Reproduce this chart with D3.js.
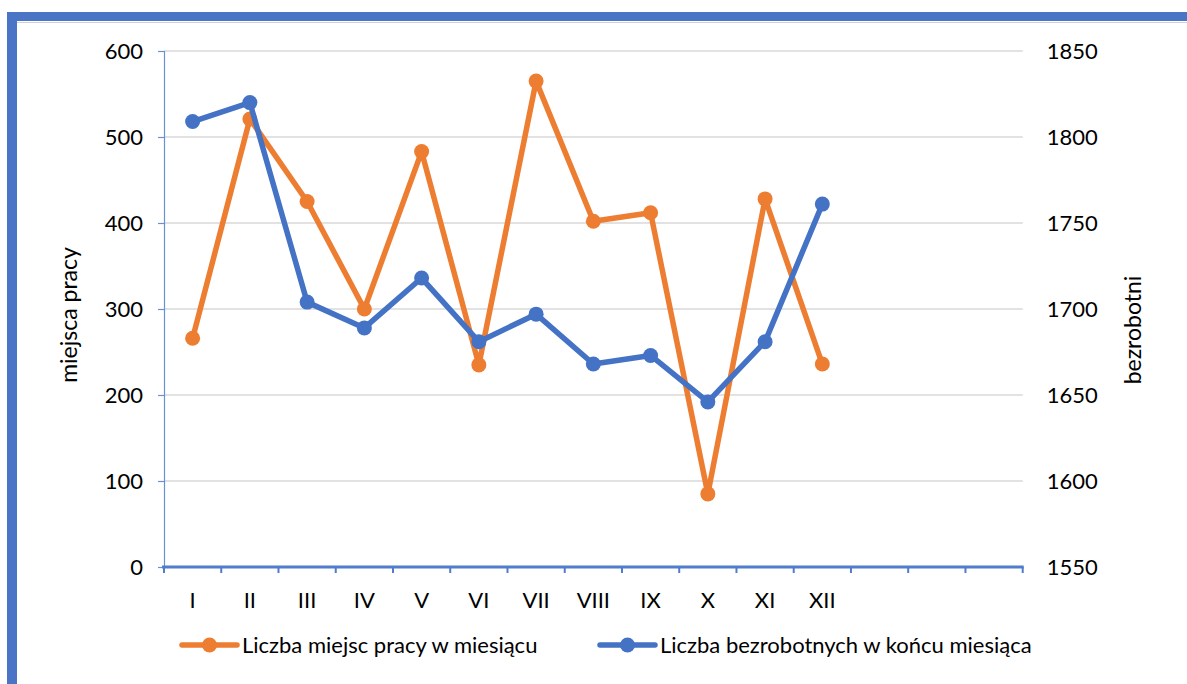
<!DOCTYPE html>
<html><head><meta charset="utf-8">
<script src="https://cdn.jsdelivr.net/npm/d3@7/dist/d3.min.js"></script>
<style>
html,body{margin:0;padding:0;background:#fff;}
svg{display:block;font-family:Lato,"Open Sans",sans-serif;}
</style></head>
<body>
<svg id="c" width="1187" height="684"></svg>
<script>
const categories = ["I","II","III","IV","V","VI","VII","VIII","IX","X","XI","XII","","",""];
const jobs = [266, 521, 425, 300, 483, 235, 565, 402, 412, 85, 428, 236];
const unemployed = [1809, 1820, 1704, 1689, 1718, 1681, 1697, 1668, 1673, 1646, 1681, 1761];
const leftTicks = [0, 100, 200, 300, 400, 500, 600];
const rightTicks = [1550, 1600, 1650, 1700, 1750, 1800, 1850];
const seriesNames = ["Liczba miejsc pracy w miesiącu", "Liczba bezrobotnych w końcu miesiąca"];
const colors = ["#ED7D31", "#4472C4"];

const svg = d3.select("#c");
const L = 164, R = 1022.7, T = 51, B = 567;
const FS = 22;

// frame
svg.append("line").attr("x1",17).attr("x2",1187).attr("y1",22.5).attr("y2",22.5).attr("stroke","#d0d0d0").attr("stroke-width",1);
svg.append("rect").attr("x",7).attr("y",12).attr("width",1180).attr("height",9).attr("fill","#4a74c6");
svg.append("rect").attr("x",7).attr("y",12).attr("width",10).attr("height",672).attr("fill","#4a74c6");

const x = d3.scaleBand().domain(categories.map((d,i)=>i)).range([L,R]).paddingInner(0).paddingOuter(0);
const yL = d3.scaleLinear().domain([0,600]).range([B,T]);
const yR = d3.scaleLinear().domain([1550,1850]).range([B,T]);

// gridlines
svg.append("g").selectAll("line").data(leftTicks.filter(d=>d>0)).join("line")
  .attr("x1",L).attr("x2",R).attr("y1",d=>yL(d)).attr("y2",d=>yL(d))
  .attr("stroke","#d9d9d9").attr("stroke-width",1.5);

// left axis
const gl = svg.append("g").attr("transform",`translate(${L},0)`)
  .call(d3.axisLeft(yL).tickValues(leftTicks).tickSize(6).tickPadding(15).tickFormat(d3.format("d")));
gl.select(".domain").attr("stroke","#6a8fd6").attr("stroke-width",1.2);
gl.selectAll(".tick line").attr("stroke","#6a8fd6").attr("stroke-width",1.2);
gl.selectAll("text").attr("font-size",FS).attr("fill","#000").attr("font-family","Lato");

// right axis
const gr = svg.append("g").attr("transform",`translate(${R},0)`)
  .call(d3.axisRight(yR).tickValues(rightTicks).tickSize(0).tickPadding(24).tickFormat(d3.format("d")));
gr.select(".domain").remove();
gr.selectAll("text").attr("font-size",FS).attr("fill","#000").attr("font-family","Lato");

// bottom axis
const bandTicks = d3.range(categories.length+1).map(i=>L + i*x.bandwidth());
svg.append("g").selectAll("line").data(bandTicks).join("line")
  .attr("x1",d=>d).attr("x2",d=>d).attr("y1",B).attr("y2",B+6)
  .attr("stroke","#4f7ccc").attr("stroke-width",2);
svg.append("line").attr("x1",L-2).attr("x2",R+1).attr("y1",B).attr("y2",B)
  .attr("stroke","#4f7ccc").attr("stroke-width",3);
svg.append("g").selectAll("text").data(categories).join("text")
  .attr("x",(d,i)=>x(i)+x.bandwidth()/2).attr("y",608)
  .attr("text-anchor","middle").attr("font-size",FS).attr("fill","#000").text(d=>d);

// axis titles
svg.append("text").attr("transform","translate(77,315) rotate(-90)")
  .attr("text-anchor","middle").attr("font-size",23).attr("fill","#000").text("miejsca pracy");
svg.append("text").attr("transform","translate(1141,330) rotate(-90)")
  .attr("text-anchor","middle").attr("font-size",23).attr("fill","#000").text("bezrobotni");

// series
const cx = i => x(i) + x.bandwidth()/2;
function drawSeries(vals, scale, color){
  const line = d3.line().x((d,i)=>cx(i)).y(d=>scale(d));
  svg.append("path").datum(vals).attr("d",line).attr("fill","none")
    .attr("stroke",color).attr("stroke-width",5.5).attr("stroke-linejoin","round").attr("stroke-linecap","round");
  svg.append("g").selectAll("circle").data(vals).join("circle")
    .attr("cx",(d,i)=>cx(i)).attr("cy",d=>scale(d)).attr("r",7.5).attr("fill",color);
}
drawSeries(jobs, yL, colors[0]);
drawSeries(unemployed, yR, colors[1]);

// legend
const legend = [{x0:182, x1:237, tx:242}, {x0:600, x1:655, tx:660}];
legend.forEach((lg,i)=>{
  const g = svg.append("g");
  g.append("line").attr("x1",lg.x0).attr("x2",lg.x1).attr("y1",645).attr("y2",645)
    .attr("stroke",colors[i]).attr("stroke-width",5.5).attr("stroke-linecap","round");
  g.append("circle").attr("cx",(lg.x0+lg.x1)/2).attr("cy",645).attr("r",7.5).attr("fill",colors[i]);
  g.append("text").attr("x",lg.tx).attr("y",653).attr("font-size",FS).attr("fill","#000").text(seriesNames[i]);
});
</script>
</body></html>
